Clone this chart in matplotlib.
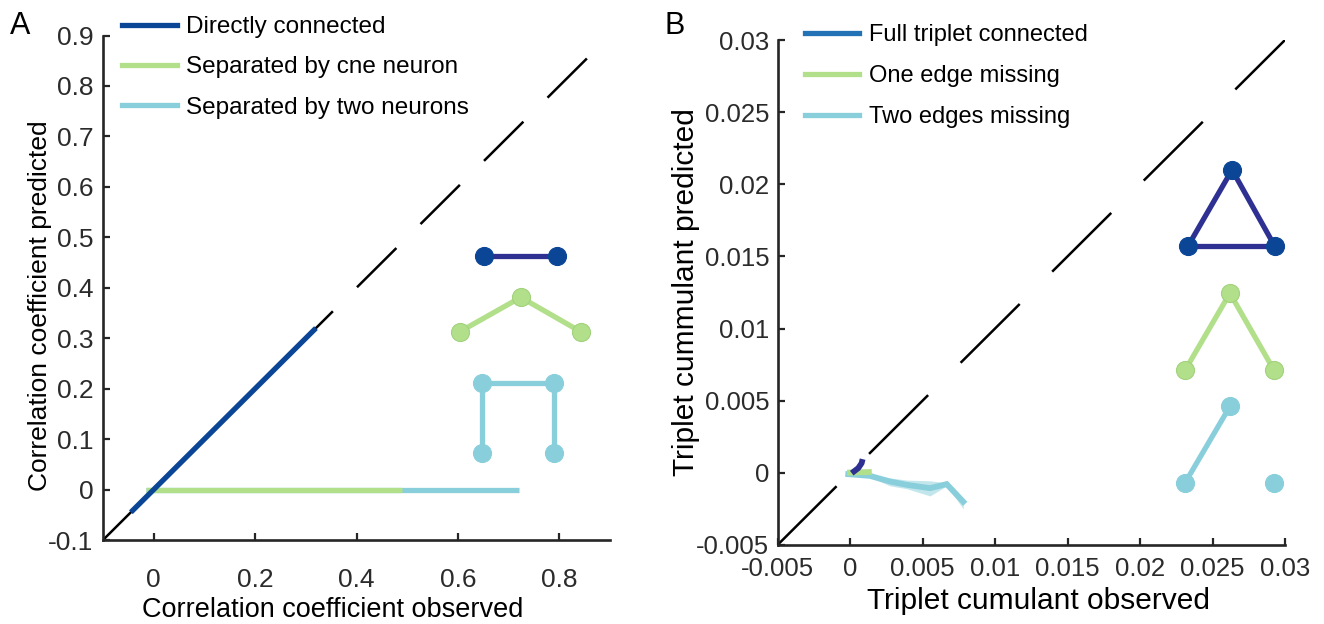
import matplotlib
matplotlib.use("Agg")
import matplotlib.pyplot as plt
from matplotlib.lines import Line2D

# ---------------- data ----------------
# Panel A: pairwise correlation, predicted vs observed
a_direct_obs = [-0.045, 0.32]
a_direct_pred = [-0.045, 0.32]
a_one_obs = [-0.015, 0.49]
a_one_pred = [0.0, 0.0]
a_two_obs = [-0.015, 0.72]
a_two_pred = [0.0, 0.0]
a_labels = ["Directly connected", "Separated by cne neuron", "Separated by two neurons"]
a_xticks = [0, 0.2, 0.4, 0.6, 0.8]
a_xticklabels = ["0", "0.2", "0.4", "0.6", "0.8"]
a_yticks = [-0.1, 0, 0.1, 0.2, 0.3, 0.4, 0.5, 0.6, 0.7, 0.8, 0.9]
a_yticklabels = ["-0.1", "0", "0.1", "0.2", "0.3", "0.4", "0.5", "0.6", "0.7", "0.8", "0.9"]

# Panel B: triplet cumulant, predicted vs observed
b_full_obs = [0.00012, 0.00057, 0.00080, 0.00087]
b_full_pred = [-0.00002, 0.00033, 0.00067, 0.00095]
b_one_obs = [-0.0002, 0.0015]
b_one_pred = [0.00002, 0.00006]
b_two_obs = [-0.00012, 0.00138, 0.00276, 0.00391, 0.00552, 0.00667, 0.00781]
b_two_pred = [-0.00009, -0.00021, -0.00060, -0.00083, -0.00106, -0.00078, -0.00200]
b_two_lo = [-0.00015, -0.00030, -0.00090, -0.00110, -0.00160, -0.00090, -0.00250]
b_two_hi = [-0.00005, -0.00010, -0.00035, -0.00050, -0.00055, -0.00070, -0.00190]
b_labels = ["Full triplet connected", "One edge missing", "Two edges missing"]
b_ticks = [-0.005, 0, 0.005, 0.01, 0.015, 0.02, 0.025, 0.03]
b_ticklabels = ["-0.005", "0", "0.005", "0.01", "0.015", "0.02", "0.025", "0.03"]

# ---------------- style ----------------
NAVY = "#0b4596"
EDGE_NAVY = "#2e3192"
LEG_BLUE = "#2372b5"
GREEN = "#b2df8a"
GREEN_EDGE = "#a2d27d"
CYAN = "#89cfdb"
AXC = "#262626"

plt.rcParams["font.family"] = ["Liberation Sans", "DejaVu Sans"]
plt.rcParams["lines.scale_dashes"] = False

W, H = 1324, 624
fig = plt.figure(figsize=(W / 100, H / 100), dpi=100)


def px_axes(left, top, right, bottom):
    return fig.add_axes([left / W, 1 - bottom / H, (right - left) / W, (bottom - top) / H])


def style_axes(ax, ticks_x, labels_x, ticks_y, labels_y, xpad, ypad, size):
    for s in ("top", "right"):
        ax.spines[s].set_visible(False)
    for s in ("left", "bottom"):
        ax.spines[s].set_linewidth(1.9)
        ax.spines[s].set_color(AXC)
    ax.set_xticks(ticks_x)
    ax.set_xticklabels(labels_x)
    ax.set_yticks(ticks_y)
    ax.set_yticklabels(labels_y)
    ax.tick_params(direction="in", length=5, width=1.6, colors=AXC, labelsize=size)
    ax.tick_params(axis="x", pad=xpad)
    ax.tick_params(axis="y", pad=ypad)
    for t in ax.get_xticklabels() + ax.get_yticklabels():
        t.set_color("#2b2b2b")


def motif(ax, nodes, edges, node_color, node_edge, edge_color):
    for i, j in edges:
        ax.plot([nodes[i][0], nodes[j][0]], [nodes[i][1], nodes[j][1]],
                color=edge_color, lw=3.8, solid_capstyle="butt", zorder=4)
    ax.plot([n[0] for n in nodes], [n[1] for n in nodes], "o", ls="none",
            ms=13, mfc=node_color, mec=node_edge, mew=0.8, zorder=5)


# ---------------- Panel A ----------------
axA = px_axes(103, 35.5, 610, 540)
axA.set_xlim(-0.1, 0.9)
axA.set_ylim(-0.1, 0.9)
axA.plot([-0.1, 0.9], [-0.1, 0.9], color="black", lw=1.8, dashes=(40, 24.5),
         solid_capstyle="butt", dash_capstyle="butt", zorder=1)
axA.plot(a_two_obs, a_two_pred, color=CYAN, lw=3.8, solid_capstyle="butt", zorder=2)
axA.plot(a_one_obs, a_one_pred, color=GREEN, lw=3.8, solid_capstyle="butt", zorder=3)
axA.plot(a_direct_obs, a_direct_pred, color=NAVY, lw=3.8, solid_capstyle="butt", zorder=3)
style_axes(axA, a_xticks, a_xticklabels, a_yticks, a_yticklabels, 20, 7, 19)
axA.set_xlabel("Correlation coefficient observed", fontsize=19.5, labelpad=4, x=0.454)
axA.set_ylabel("Correlation coefficient predicted", fontsize=19, labelpad=-3, y=0.465)

motif(axA, [(0.651, 0.462), (0.795, 0.462)], [(0, 1)], NAVY, NAVY, EDGE_NAVY)
motif(axA, [(0.604, 0.313), (0.724, 0.381), (0.842, 0.313)], [(0, 1), (1, 2)],
      GREEN, GREEN_EDGE, GREEN)
motif(axA, [(0.647, 0.212), (0.789, 0.212), (0.647, 0.073), (0.789, 0.073)],
      [(0, 1), (0, 2), (1, 3)], CYAN, CYAN, CYAN)

handlesA = [Line2D([], [], color=c, lw=3.8) for c in (NAVY, GREEN, CYAN)]
fig.legend(handlesA, a_labels, loc="upper left", frameon=False,
           bbox_to_anchor=(122 / W, 1 - 16 / H), borderpad=0, borderaxespad=0,
           handlelength=2.25, handletextpad=0.38, labelspacing=0.76,
           prop={"size": 17.5})

fig.text(20 / W, 1 - 26 / H, "A", fontsize=22, va="center", ha="center")

# ---------------- Panel B ----------------
axB = px_axes(777.5, 40, 1285, 545)
axB.set_xlim(-0.005, 0.03)
axB.set_ylim(-0.005, 0.03)
axB.plot([-0.005, 0.03], [-0.005, 0.03], color="black", lw=1.8, dashes=(60, 33),
         solid_capstyle="butt", dash_capstyle="butt", zorder=1)
axB.fill_between(b_two_obs, b_two_lo, b_two_hi, color=CYAN, alpha=0.5, lw=0, zorder=2)
axB.plot(b_two_obs, b_two_pred, color=CYAN, lw=4.2, solid_joinstyle="miter", zorder=3)
axB.plot(b_one_obs, b_one_pred, color=GREEN, lw=4.2, solid_capstyle="butt", zorder=4)
axB.plot(b_full_obs, b_full_pred, color=EDGE_NAVY, lw=4.2, solid_capstyle="butt", zorder=5)
style_axes(axB, b_ticks, b_ticklabels, b_ticks, b_ticklabels, 9, 6, 18.5)
axB.set_xlabel("Triplet cumulant observed", fontsize=21.5, labelpad=4, x=0.515)
axB.set_ylabel("Triplet cummulant predicted", fontsize=21.5, labelpad=-2.5, y=0.5)

motif(axB, [(0.02635, 0.0210), (0.0233, 0.0157), (0.0293, 0.0157)],
      [(0, 1), (1, 2), (0, 2)], NAVY, NAVY, EDGE_NAVY)
motif(axB, [(0.0231, 0.0071), (0.0262, 0.01245), (0.02925, 0.0071)],
      [(0, 1), (1, 2)], GREEN, GREEN_EDGE, GREEN)
motif(axB, [(0.0231, -0.0007), (0.0262, 0.0046), (0.02925, -0.0007)],
      [(0, 1)], CYAN, CYAN, CYAN)

handlesB = [Line2D([], [], color=c, lw=3.8) for c in (LEG_BLUE, GREEN, CYAN)]
fig.legend(handlesB, b_labels, loc="upper left", frameon=False,
           bbox_to_anchor=(805 / W, 1 - 24 / H), borderpad=0, borderaxespad=0,
           handlelength=2.3, handletextpad=0.4, labelspacing=0.8,
           prop={"size": 17})

fig.text(675 / W, 1 - 26 / H, "B", fontsize=22, va="center", ha="center")

fig.savefig("out.png", dpi=100)
